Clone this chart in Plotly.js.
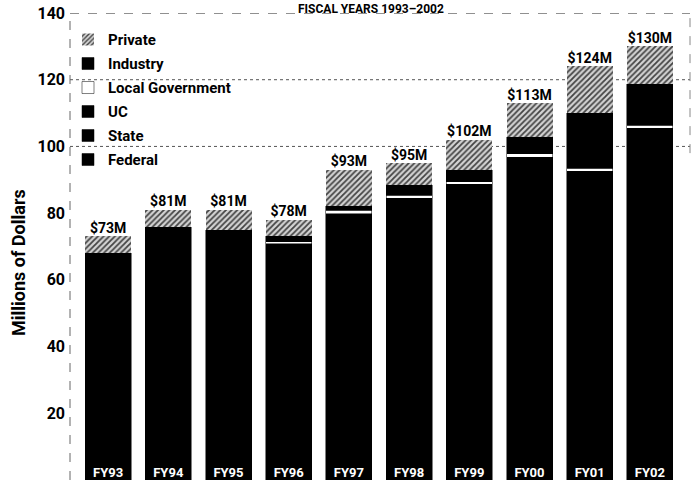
<!DOCTYPE html>
<html>
<head>
<meta charset="utf-8">
<script src="https://cdn.plot.ly/plotly-3.0.1.min.js"></script>
<style>html,body{margin:0;padding:0;background:#fff;}#chart{width:696px;height:485px;}</style>
</head>
<body>
<div id="chart"></div>
<script>
const years = ["FY93","FY94","FY95","FY96","FY97","FY98","FY99","FY00","FY01","FY02"];
const federal = [65.5, 73.0, 72.3, 68.0, 76.8, 81.3, 85.3, 93.3, 89.1, 101.8];
const state   = [1.5, 1.5, 1.5, 1.6, 1.8, 2.0, 2.1, 2.3, 2.3, 2.5];
const uc      = [1.0, 1.2, 1.2, 1.2, 1.2, 1.2, 1.2, 1.2, 1.2, 1.2];
const localGov= [0, 0, 0, 0.7, 1.0, 0.8, 0.8, 1.0, 0.8, 0.8];
const industry= [0, 0, 0, 1.5, 1.2, 3.0, 3.6, 4.9, 16.6, 12.3];
const privateF= [5.0, 5.3, 6.0, 5.0, 11.0, 6.7, 9.0, 10.3, 14.0, 11.4];
const totals  = [73, 81, 81, 78, 93, 95, 102, 113, 124, 130];
const totalLabels = ["$73M","$81M","$81M","$78M","$93M","$95M","$102M","$113M","$124M","$130M"];
const yTicks = [20, 40, 60, 80, 100, 120, 140];
const gridLevels = [100, 120];

const FONT = "Roboto, 'Liberation Sans', sans-serif";
const PW = 602; // plot width in px (696 - 78 - 16)

function barTrace(name, vals, color, rank, extra) {
  return Object.assign({
    type: 'bar', name: name, x: years, y: vals, legendgroup: name, legendrank: rank,
    marker: {color: color, line: {color: '#000', width: 0.5}},
    hoverinfo: 'name+y'
  }, extra || {});
}

const traces = [
  barTrace('Federal', federal, '#000', 6),
  barTrace('State', state, '#000', 5),
  barTrace('UC', uc, '#000', 4),
  barTrace('Local Government', localGov, '#fff', 3),
  barTrace('Industry', industry, '#000', 2),
  barTrace('Private', privateF, '#fff', 1, {
    marker: {color: '#fff', line: {color: '#000', width: 0},
      pattern: {shape: '/', fgcolor: '#444', bgcolor: '#d4d4d4', size: 4, solidity: 0.45}}
  }),
  {
    type: 'scatter', mode: 'text', x: years, y: totals, text: totalLabels,
    textposition: 'top center', showlegend: false, hoverinfo: 'skip', cliponaxis: false,
    textfont: {family: FONT, size: 14, color: '#000', weight: 'bold'}
  },
  {
    type: 'scatter', mode: 'text', x: years, y: years.map(() => 0), text: years,
    textposition: 'top center', showlegend: false, hoverinfo: 'skip', cliponaxis: false,
    textfont: {family: FONT, size: 13, color: '#fff', weight: 'bold'}
  }
];

const shapes = gridLevels.map(v => ({
  type: 'line', xref: 'paper', yref: 'y', x0: -8 / PW, x1: 1 + 10 / PW, y0: v, y1: v,
  layer: 'below', line: {color: '#555', width: 1, dash: 'dot'}
}));
shapes.push(
  {type: 'line', xref: 'paper', yref: 'y', x0: -8 / PW, x1: 1 + 10 / PW, y0: 140, y1: 140,
   line: {color: '#222', width: 1.2, dash: 'dash'}},
  {type: 'line', xref: 'paper', yref: 'y', x0: -8 / PW, x1: -8 / PW, y0: 0, y1: 140,
   layer: 'below', line: {color: '#666', width: 1, dash: 'dash'}},
  {type: 'line', xref: 'paper', yref: 'y', x0: 1 + 10 / PW, x1: 1 + 10 / PW, y0: 98, y1: 140,
   layer: 'below', line: {color: '#888', width: 1, dash: 'dash'}}
);

const layout = {
  width: 696, height: 485,
  margin: {l: 78, r: 16, t: 13, b: 5},
  paper_bgcolor: '#fff', plot_bgcolor: '#fff',
  barmode: 'stack', bargap: 0.236,
  font: {family: FONT, color: '#000', size: 14, weight: 'bold'},
  showlegend: true,
  legend: {x: -10 / PW, y: 0.978, xanchor: 'left', yanchor: 'top', bgcolor: 'rgba(0,0,0,0)',
    traceorder: 'grouped', tracegroupgap: 1.5,
    font: {family: FONT, size: 15, color: '#000', weight: 'bold'}},
  xaxis: {showticklabels: false, showgrid: false, zeroline: false, showline: false, ticks: ''},
  yaxis: {range: [0, 140], tickvals: yTicks, ticktext: yTicks.map(String),
    showgrid: false, zeroline: false, showline: false,
    ticks: '', ticklabelstandoff: 12,
    tickfont: {family: FONT, size: 16, color: '#000', weight: 'bold'}},
  shapes: shapes,
  annotations: [
    {text: 'Millions of Dollars', xref: 'paper', yref: 'paper', x: -60 / PW, y: (480 - 263) / 467,
     xanchor: 'center', yanchor: 'middle', textangle: -90, showarrow: false,
     font: {family: FONT, size: 18, color: '#000', weight: 'bold'}},
    {text: 'FISCAL YEARS 1993\u20132002', xref: 'paper', yref: 'paper', x: (371 - 78) / PW, y: 1,
     yshift: 13, xanchor: 'center', yanchor: 'top', showarrow: false,
     font: {family: FONT, size: 12, color: '#000', weight: 'bold'}}
  ]
};

Plotly.newPlot('chart', traces, layout, {displayModeBar: false, staticPlot: true});
</script>
</body>
</html>
